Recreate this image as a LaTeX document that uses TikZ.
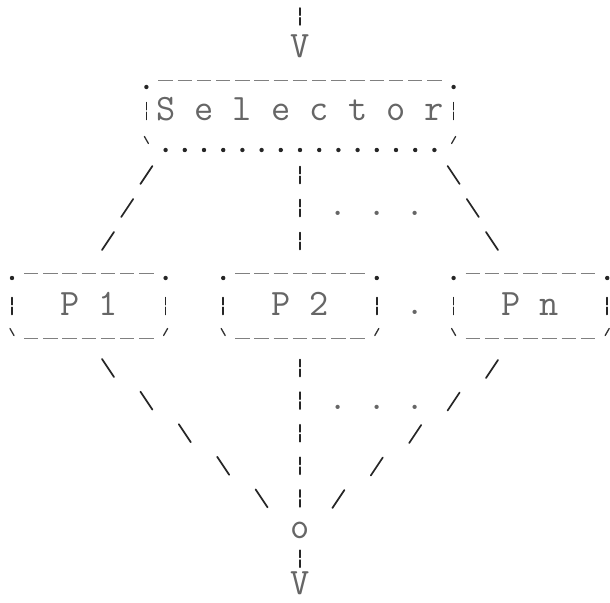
\documentclass[tikz,border=0pt]{standalone}
\usetikzlibrary{decorations.markings,calc}

\newlength\monocharwd

% single character strokes, drawn upright wherever they are placed
\newcommand\slashglyph{\pgftransformresetnontranslations\draw[glyph] (6,-9) -- (-6,9);}
\newcommand\bslashglyph{\pgftransformresetnontranslations\draw[glyph] (-6,-9) -- (6,9);}
\newcommand\barglyph{\pgftransformresetnontranslations\draw[glyph,line width=1.5pt] (0,-8.5) -- (0,-1.3) (0,1.3) -- (0,8.5);}

% character-cell frame: #1 left x, #2 right x, #3 corner dot y, #4 top rule y, #5 side bar y, #6 corner tick y
\newcommand\asciiframe[6]{%
  \fill[dotmark] (#1,#3) circle (2.2) (#2,#3) circle (2.2);
  \draw[edgerule] (#1+12,#4) -- (#2-12,#4);
  \draw[glyph,line width=1.5pt] (#1,#5-8.5) -- (#1,#5-1.3) (#1,#5+1.3) -- (#1,#5+8.5)
       (#2,#5-8.5) -- (#2,#5-1.3) (#2,#5+1.3) -- (#2,#5+8.5);
  \draw[tickmark] (#1-2,#6-3.5) -- (#1+2,#6+3.5) (#2+2,#6-3.5) -- (#2-2,#6+3.5);
}
\newcommand\dashbottom[3]{\draw[edgerule] (#1+12,#3) -- (#2-12,#3);}
\newcommand\dotbottom[3]{\foreach \k in {1,...,15} \fill[dotmark] (#1+19.2*\k,#3) circle (2.2);}

\tikzset{
  glyph/.style={line width=1.7pt, line cap=round, draw=black!85},
  tickmark/.style={line width=1.3pt, line cap=round, draw=black!80},
  edgerule/.style={line width=1pt, draw=black!50, dash pattern=on 14.4pt off 4.8pt},
  dotmark/.style={fill=black!85},
  mono/.style={font=\frenchspacing\ttfamily\fontsize{\monosize}{\monosize}\selectfont,
    text=black!60, inner sep=0pt, outer sep=0pt},
  frame box/.style n args={3}{mono, anchor=base, minimum width=#1, text height=#2, text depth=#3},
  glyphrun/.style n args={4}{decoration={markings,
      mark=between positions #1 and #2 step #3 with {#4}}, postaction={decorate}},
}

\begin{document}
% one character cell is 19.2pt wide
\settowidth\monocharwd{\ttfamily\fontsize{20}{24}\selectfont M}%
\pgfmathsetmacro\monosize{20*19.2/\monocharwd}%
\begin{tikzpicture}[x=1pt,y=-1pt]
  \fill[white] (0,0) rectangle (610,602);
  \useasboundingbox (0,0) rectangle (610,602);

  % boxes and labels
  \node[frame box={307.2pt}{33pt}{30pt}] (sel) at (300,120) {S e l e c t o r};
  \node[frame box={153.6pt}{37pt}{23pt}] (p1) at (88.8,315) {P 1};
  \node[frame box={153.6pt}{37pt}{23pt}] (p2) at (300,315) {P 2};
  \node[frame box={153.6pt}{37pt}{23pt}] (pn) at (530.4,315) {P n};
  \node[mono, anchor=base] (join) at (300,538) {o};
  \node[mono, anchor=base] (inV) at (300,58) {V};
  \node[mono, anchor=base] (outV) at (300,594) {V};
  \node[mono, anchor=base] (moreA) at (376.8,215) {. . .};
  \node[mono, anchor=base] (moreB) at (376.8,409) {. . .};
  \node[mono, anchor=base] (moreC) at (415.2,314) {.};

  % frames
  \asciiframe{146.4}{453.6}{87}{80}{111}{140}
  \dotbottom{146.4}{453.6}{150}
  \asciiframe{12}{165.6}{278}{273}{306}{332}
  \dashbottom{12}{165.6}{338}
  \asciiframe{223.2}{376.8}{278}{273}{306}{332}
  \dashbottom{223.2}{376.8}{338}
  \asciiframe{453.6}{607.2}{278}{273}{306}{332}
  \dashbottom{453.6}{607.2}{338}

  % connector end points
  \coordinate (src) at (300,0);
  \coordinate (selL) at ($(sel.south west)+(0,25)$);
  \coordinate (selR) at ($(sel.south east)+(0,25)$);
  \coordinate (p1In) at ($(p1.north)+(9.6,-20.5)$);
  \coordinate (pnIn) at ($(pn.north)+(-28.8,-20.5)$);
  \coordinate (p1Out) at ($(p1.south)+(19.2,30)$);
  \coordinate (pnOut) at ($(pn.south)+(-38.4,31)$);
  \coordinate (joinL) at ($(join.base)+(-19.2,-23.3)$);
  \coordinate (joinR) at ($(join.base)+(19.2,-22.75)$);

  % connectors
  \path[glyphrun={16.5pt}{17pt}{32pt}{\barglyph}] (src) -- (inV.north);
  \path[glyphrun={25pt}{92pt}{33pt}{\barglyph}] (sel.south) -- (p2.north);
  \path[glyphrun={0pt}{77pt}{38.18pt}{\slashglyph}] (selL) -- (p1In);
  \path[glyphrun={0pt}{77pt}{38.18pt}{\bslashglyph}] (selR) -- (pnIn);
  \path[glyphrun={30pt}{162pt}{32.6pt}{\barglyph}] (p2.south) -- (join.north);
  \path[glyphrun={0pt}{202.5pt}{50.37pt}{\bslashglyph}] (p1Out) -- (joinL);
  \path[glyphrun={0pt}{202pt}{50.31pt}{\slashglyph}] (pnOut) -- (joinR);
  \path[glyphrun={20.5pt}{21pt}{32pt}{\barglyph}] (join.south) -- (outV.north);
\end{tikzpicture}
\end{document}
